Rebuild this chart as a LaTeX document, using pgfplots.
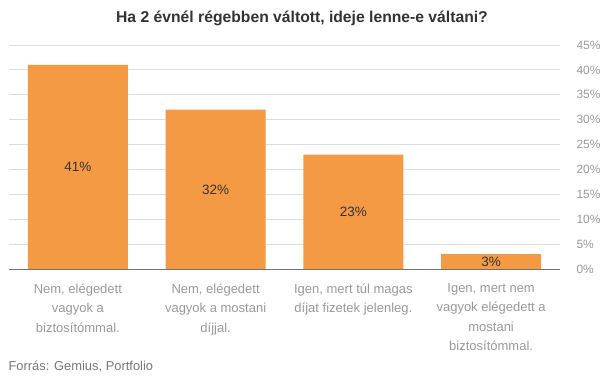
\documentclass[border=0pt]{standalone}
\usepackage{pgfplots}
\pgfplotsset{compat=1.18}
\usepackage{fontspec}
\setmainfont{Liberation Sans}
\definecolor{barc}{HTML}{F59A44}
\definecolor{gridc}{HTML}{DDDDDD}
\definecolor{tickc}{HTML}{999999}
\definecolor{labc}{HTML}{333333}
\definecolor{srcc}{HTML}{777777}
\begin{document}
\begin{tikzpicture}[x=1pt,y=1pt]
\path[use as bounding box] (0,0) rectangle (605,378);
\begin{axis}[
  at={(9pt,109pt)}, anchor=south west,
  scale only axis, width=551pt, height=224pt,
  xmin=-0.5, xmax=3.5, ymin=0, ymax=45,
  axis line style={draw=none},
  ytick={0,5,...,45},
  yticklabel pos=right,
  yticklabel={\pgfmathprintnumber{\tick}\%},
  /pgf/number format/assume math mode=true,
  yticklabel style={font=\fontsize{12}{14}\selectfont, text=tickc, anchor=west, xshift=13pt},
  ymajorgrids, grid style={gridc, line width=0.8pt},
  major tick length=0pt,
  xtick={0,1,2,3},
  xticklabels={{Nem, elégedett\\vagyok a\\biztosítómmal.},{Nem, elégedett\\vagyok a mostani\\díjjal.},{Igen, mert túl magas\\díjat fizetek jelenleg.},{Igen, mert nem\\vagyok elégedett a\\mostani\\biztosítómmal.}},
  xticklabel style={font=\fontsize{13}{19.5}\selectfont, text=tickc, align=center, anchor=north, yshift=-11pt},
  ybar, bar width=0.725,
  visualization depends on=y \as \rawy,
  nodes near coords={\pgfmathprintnumber{\rawy}\%},
  every node near coord/.append style={font=\fontsize{13.5}{15}\selectfont, text=labc, anchor=center, yshift={-2.489*\rawy*1pt}},
  clip=false,
]
\addplot[fill=barc, draw=none] coordinates {(0,41) (1,32) (2,23) (3,3)};
\draw[color=gray!90!black, line width=0.8pt] (axis cs:-0.5,0) -- (axis cs:3.5,0);
\end{axis}
\node[font=\fontsize{15.7}{18}\bfseries\selectfont, text=labc] at (302,360) {Ha 2 évnél régebben váltott, ideje lenne-e váltani?};
\node[font=\fontsize{12.9}{15}\selectfont, text=srcc, anchor=west] at (5,11) {Forrás: Gemius, Portfolio};
\end{tikzpicture}
\end{document}
